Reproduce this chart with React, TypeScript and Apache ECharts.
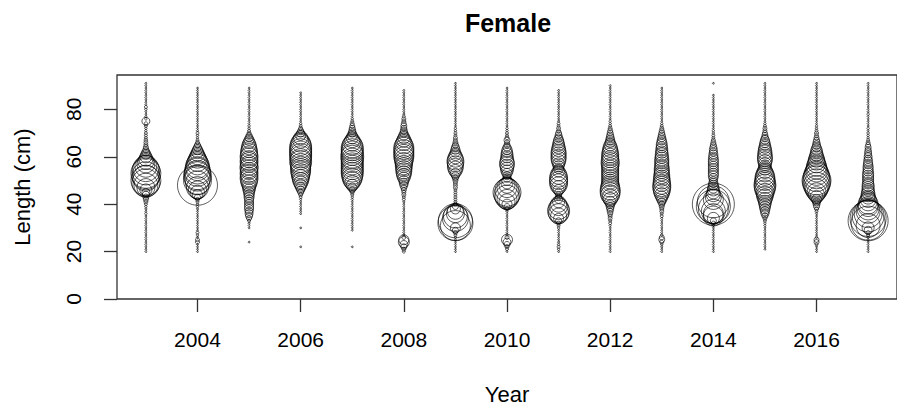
import { useEffect, useRef } from "react";
import * as echarts from "echarts";

// Survey years and 1-cm length bins (20..91 cm)
const years = [2003, 2004, 2005, 2006, 2007, 2008, 2009, 2010, 2011, 2012, 2013, 2014, 2015, 2016, 2017];
const firstLength = 20;
const xTicks = [2004, 2006, 2008, 2010, 2012, 2014, 2016];
const yTicks = [0, 20, 40, 60, 80];

// Proportion at length (%), one value per bin from 20 to 91 cm
const p2003 = [
  0.03, 0.03, 0.03, 0.03, 0.03, 0.03, 0.03, 0.03, 0.03, 0.03,
  0.03, 0.03, 0.03, 0.03, 0.03, 0.03, 0.06, 0.03, 0.04, 0.06,
  0.09, 0.16, 0.25, 0.36, 0.49, 0.64, 1.44, 3.24, 5.76, 7.84,
  9.0, 6.76, 7.84, 9.0, 7.84, 6.76, 4.84, 3.24, 2.56, 1.96,
  1.44, 1.0, 0.64, 0.36, 0.25, 0.16, 0.16, 0.13, 0.09, 0.09,
  0.09, 0.06, 0.06, 0.09, 0.12, 0.64, 0.06, 0.04, 0.03, 0.03,
  0.06, 0.09, 0.03, 0.03, 0.03, 0.03, 0.03, 0.03, 0.03, 0.03,
  0.03, 0.03,
];
const p2004 = [
  0.03, 0.03, 0.03, 0.03, 0.16, 0.16, 0.04, 0.06, 0.09, 0.03,
  0.03, 0.03, 0.03, 0.03, 0.03, 0.03, 0.03, 0.03, 0.04, 0.06,
  0.06, 0.09, 0.16, 0.36, 1.0, 1.96, 3.24, 4.84, 16.0, 5.76,
  7.84, 6.76, 7.84, 6.76, 6.76, 5.76, 5.76, 4.84, 4.0, 3.24,
  2.56, 1.96, 1.44, 1.0, 0.64, 0.36, 0.16, 0.09, 0.06, 0.06,
  0.09, 0.04, 0.03, 0.03, 0.03, 0.03, 0.03, 0.03, 0.03, 0.03,
  0.03, 0.03, 0.03, 0.03, 0.03, 0.03, 0.03, 0.03, 0.03, 0.03,
  0, 0,
];
const p2005 = [
  0, 0, 0, 0, 0.03, 0, 0, 0, 0, 0,
  0.03, 0.03, 0.04, 0.09, 0.25, 0.49, 0.64, 0.64, 0.81, 0.81,
  0.81, 0.81, 0.81, 1.0, 1.0, 1.21, 1.44, 1.69, 1.96, 2.56,
  2.89, 3.24, 2.89, 3.24, 2.89, 3.24, 3.24, 2.89, 3.24, 2.89,
  3.24, 2.89, 2.89, 2.56, 2.25, 1.96, 1.44, 1.0, 0.64, 0.36,
  0.16, 0.09, 0.06, 0.06, 0.03, 0.03, 0.03, 0.03, 0.03, 0.03,
  0.03, 0.03, 0.03, 0.03, 0.03, 0.03, 0.03, 0.03, 0.03, 0.03,
  0, 0,
];
const p2006 = [
  0, 0, 0.03, 0, 0, 0, 0, 0, 0, 0,
  0.03, 0, 0, 0, 0, 0, 0.03, 0.03, 0.03, 0.03,
  0.03, 0.03, 0.04, 0.09, 0.16, 0.36, 0.64, 1.0, 1.44, 1.96,
  2.56, 2.89, 3.24, 3.61, 4.0, 4.0, 4.0, 4.41, 4.84, 4.41,
  4.84, 4.84, 4.84, 4.84, 4.84, 4.41, 3.61, 2.56, 1.96, 1.0,
  0.64, 0.36, 0.16, 0.09, 0.06, 0.03, 0.03, 0.03, 0.03, 0.03,
  0.03, 0.03, 0.03, 0.03, 0.03, 0.03, 0.03, 0.03, 0, 0,
  0, 0,
];
const p2007 = [
  0, 0, 0.03, 0, 0, 0, 0, 0, 0, 0.03,
  0.03, 0.03, 0.03, 0.03, 0.03, 0.03, 0.03, 0.03, 0.03, 0.03,
  0.03, 0.03, 0.04, 0.06, 0.09, 0.16, 0.36, 0.81, 1.44, 2.25,
  3.24, 4.0, 4.41, 4.84, 4.84, 4.84, 4.84, 4.84, 4.84, 4.84,
  5.29, 4.84, 4.84, 4.84, 4.84, 4.0, 2.89, 2.25, 1.44, 1.0,
  0.64, 0.49, 0.36, 0.25, 0.16, 0.09, 0.06, 0.03, 0.03, 0.03,
  0.03, 0.03, 0.03, 0.03, 0.03, 0.03, 0.03, 0.03, 0.03, 0.03,
  0, 0,
];
const p2008 = [
  0.09, 0.16, 0.36, 0.64, 1.21, 1.0, 0.16, 0.04, 0.03, 0.03,
  0.03, 0.03, 0.03, 0.03, 0.03, 0.03, 0.03, 0.03, 0.03, 0.03,
  0.03, 0.04, 0.09, 0.09, 0.16, 0.16, 0.25, 0.36, 0.64, 0.81,
  1.0, 1.44, 1.96, 2.25, 2.56, 2.56, 2.89, 2.89, 3.24, 3.61,
  4.0, 4.0, 4.0, 4.0, 4.0, 3.24, 2.56, 1.96, 1.44, 1.0,
  0.64, 0.49, 0.36, 0.36, 0.25, 0.16, 0.16, 0.09, 0.04, 0.03,
  0.03, 0.03, 0.03, 0.03, 0.03, 0.03, 0.03, 0.03, 0.03, 0,
  0, 0,
];
const p2009 = [
  0.03, 0.03, 0.03, 0.03, 0.03, 0.03, 0.06, 0.09, 0.16, 0.36,
  1.0, 9.0, 12.25, 11.56, 6.76, 5.76, 3.24, 2.56, 1.0, 0.36,
  0.16, 0.09, 0.09, 0.09, 0.09, 0.09, 0.09, 0.16, 0.16, 0.16,
  0.25, 0.36, 0.64, 1.0, 1.69, 2.25, 2.56, 2.56, 2.89, 2.56,
  1.96, 1.44, 1.0, 0.81, 0.64, 0.36, 0.25, 0.16, 0.16, 0.09,
  0.09, 0.06, 0.06, 0.03, 0.03, 0.03, 0.03, 0.03, 0.03, 0.03,
  0.03, 0.03, 0.03, 0.03, 0.03, 0.03, 0.03, 0.03, 0.03, 0.03,
  0.03, 0.03,
];
const p2010 = [
  0.03, 0.09, 0.16, 0.36, 0.64, 1.21, 0.16, 0.06, 0.03, 0.03,
  0.03, 0.03, 0.03, 0.03, 0.03, 0.03, 0.03, 0.04, 0.16, 0.36,
  1.0, 2.56, 4.0, 5.76, 6.76, 7.84, 5.76, 4.0, 2.56, 1.44,
  1.0, 0.64, 0.64, 1.0, 1.44, 1.69, 1.96, 2.25, 1.96, 1.69,
  1.44, 1.44, 1.21, 1.0, 0.64, 0.36, 0.25, 0.36, 0.16, 0.09,
  0.09, 0.06, 0.06, 0.03, 0.03, 0.03, 0.03, 0.03, 0.03, 0.03,
  0.03, 0.03, 0.03, 0.03, 0.03, 0.03, 0.03, 0.03, 0.03, 0.03,
  0, 0,
];
const p2011 = [
  0.03, 0.06, 0.09, 0.06, 0.04, 0.03, 0.03, 0.03, 0.03, 0.03,
  0.06, 0.09, 0.16, 0.36, 1.0, 2.56, 4.0, 4.84, 4.41, 3.24,
  2.56, 1.44, 0.64, 0.36, 0.36, 0.64, 1.21, 1.96, 2.89, 3.24,
  3.24, 3.24, 2.89, 2.25, 1.44, 1.0, 1.21, 1.44, 1.96, 2.25,
  2.25, 2.25, 2.25, 1.96, 1.69, 1.44, 1.21, 1.0, 0.64, 0.49,
  0.36, 0.16, 0.16, 0.09, 0.09, 0.04, 0.03, 0.03, 0.03, 0.03,
  0.03, 0.03, 0.03, 0.03, 0.03, 0.03, 0.03, 0.03, 0.03, 0,
  0, 0,
];
const p2012 = [
  0.03, 0.03, 0.03, 0.03, 0.03, 0.03, 0.03, 0.03, 0.03, 0.03,
  0.03, 0.04, 0.09, 0.09, 0.16, 0.16, 0.25, 0.36, 0.49, 0.64,
  0.81, 1.21, 1.96, 2.56, 3.61, 4.0, 4.0, 3.61, 3.24, 2.89,
  2.89, 2.89, 2.89, 2.89, 2.89, 2.89, 2.89, 3.24, 3.24, 2.89,
  2.89, 2.89, 2.56, 2.25, 1.96, 1.44, 1.0, 0.81, 0.64, 0.49,
  0.36, 0.25, 0.16, 0.09, 0.06, 0.06, 0.03, 0.03, 0.03, 0.03,
  0.03, 0.03, 0.03, 0.03, 0.03, 0.03, 0.03, 0.03, 0.03, 0.03,
  0.03, 0,
];
const p2013 = [
  0.03, 0.03, 0.04, 0.06, 0.16, 0.36, 0.25, 0.06, 0.03, 0.03,
  0.03, 0.03, 0.03, 0.03, 0.04, 0.09, 0.09, 0.16, 0.16, 0.25,
  0.36, 0.64, 1.0, 1.44, 1.96, 2.56, 2.89, 3.24, 3.24, 2.89,
  2.89, 2.56, 2.56, 2.25, 2.25, 2.25, 1.96, 1.96, 1.96, 1.96,
  1.69, 1.69, 1.44, 1.44, 1.21, 1.21, 1.0, 0.81, 0.64, 0.49,
  0.36, 0.25, 0.16, 0.09, 0.06, 0.03, 0.03, 0.03, 0.03, 0.03,
  0.03, 0.03, 0.03, 0.03, 0.03, 0.03, 0.03, 0.03, 0.03, 0.03,
  0, 0,
];
const p2014 = [
  0.03, 0.03, 0.03, 0.03, 0.03, 0.03, 0.03, 0.03, 0.03, 0.03,
  0.03, 0.04, 0.16, 0.36, 1.44, 4.0, 4.0, 5.76, 9.0, 11.56,
  17.64, 10.24, 4.0, 2.56, 1.96, 1.69, 1.44, 1.21, 1.0, 0.81,
  0.64, 0.81, 1.0, 1.0, 1.0, 1.0, 1.0, 1.0, 1.0, 1.0,
  0.81, 0.81, 0.64, 0.64, 0.49, 0.36, 0.25, 0.16, 0.09, 0.09,
  0.06, 0.06, 0.03, 0.03, 0.03, 0.03, 0.03, 0.03, 0.03, 0.03,
  0.03, 0.03, 0.03, 0.03, 0.03, 0.03, 0.03, 0, 0, 0,
  0, 0.03,
];
const p2015 = [
  0, 0.03, 0.03, 0.03, 0.03, 0.03, 0.03, 0.03, 0.03, 0.03,
  0.03, 0.04, 0.06, 0.09, 0.16, 0.36, 0.64, 0.81, 1.0, 1.21,
  1.44, 1.69, 1.96, 2.56, 2.89, 3.24, 4.0, 4.41, 4.84, 4.41,
  4.0, 4.0, 3.61, 2.89, 2.25, 1.69, 1.44, 1.69, 1.96, 2.25,
  2.25, 1.96, 1.96, 1.69, 1.44, 1.21, 1.0, 0.81, 0.49, 0.36,
  0.25, 0.16, 0.16, 0.09, 0.06, 0.03, 0.03, 0.03, 0.03, 0.03,
  0.03, 0.03, 0.03, 0.03, 0.03, 0.03, 0.03, 0.03, 0.03, 0.03,
  0.03, 0.03,
];
const p2016 = [
  0.03, 0.03, 0.03, 0.09, 0.25, 0.25, 0.06, 0.03, 0.03, 0.03,
  0.03, 0.03, 0.03, 0.03, 0.03, 0.03, 0.04, 0.09, 0.16, 0.36,
  0.49, 0.64, 1.0, 1.69, 2.56, 3.61, 4.84, 5.76, 6.76, 7.84,
  8.41, 7.29, 6.76, 5.76, 4.84, 4.41, 4.0, 3.24, 2.89, 2.56,
  1.96, 1.69, 1.44, 1.21, 0.81, 0.64, 0.49, 0.36, 0.25, 0.16,
  0.16, 0.09, 0.06, 0.06, 0.03, 0.03, 0.03, 0.03, 0.03, 0.03,
  0.03, 0.03, 0.03, 0.03, 0.03, 0.03, 0.03, 0.03, 0.03, 0.03,
  0.03, 0.03,
];
const p2017 = [
  0.03, 0.03, 0.03, 0.03, 0.03, 0.03, 0.06, 0.09, 0.16, 0.64,
  1.44, 5.76, 11.56, 16.0, 12.96, 10.24, 7.84, 5.76, 4.84, 4.0,
  4.0, 3.24, 2.56, 1.96, 1.96, 1.69, 1.44, 1.44, 1.44, 1.21,
  1.21, 1.21, 1.21, 1.21, 1.0, 1.0, 1.0, 0.81, 0.81, 0.64,
  0.64, 0.49, 0.49, 0.36, 0.36, 0.25, 0.16, 0.09, 0.06, 0.06,
  0.06, 0.03, 0.06, 0.03, 0.03, 0.03, 0.03, 0.03, 0.06, 0.03,
  0.03, 0.03, 0.03, 0.03, 0.03, 0.03, 0.03, 0.03, 0.03, 0.03,
  0.03, 0.03,
];

const proportions = [
  p2003, p2004, p2005, p2006, p2007, p2008, p2009, p2010,
  p2011, p2012, p2013, p2014, p2015, p2016, p2017,
];

const FONT = '"Liberation Sans", Arial, Helvetica, sans-serif';

export default function App() {
  const ref = useRef<HTMLDivElement | null>(null);

  useEffect(() => {
    if (!ref.current) return;
    const chart = echarts.init(ref.current, undefined, { renderer: "svg" });

    const data: number[][] = [];
    years.forEach((yr, j) => {
      proportions[j].forEach((v, i) => {
        if (v > 0) data.push([yr, firstLength + i, v]);
      });
    });

    chart.setOption({
      animation: false,
      backgroundColor: "#ffffff",
      textStyle: { fontFamily: FONT },
      grid: {
        left: 117,
        top: 75,
        width: 783,
        height: 224,
        show: true,
        borderColor: "#333",
        borderWidth: 1.3,
        backgroundColor: "transparent",
        containLabel: false,
      },
      graphic: [
        {
          type: "text",
          x: 508,
          y: 23,
          style: {
            text: "Female",
            font: `bold 25px ${FONT}`,
            fill: "#000",
            textAlign: "center",
            textVerticalAlign: "middle",
          },
        },
      ],
      xAxis: {
        type: "value",
        min: 2002.44,
        max: 2017.56,
        name: "Year",
        nameLocation: "middle",
        nameGap: 84,
        nameTextStyle: { fontSize: 22, color: "#000", fontFamily: FONT },
        axisLine: { show: false },
        splitLine: { show: false },
        axisTick: {
          show: true,
          inside: false,
          length: 13,
          customValues: xTicks,
          lineStyle: { color: "#333", width: 1.3 },
        },
        axisLabel: {
          show: true,
          customValues: xTicks,
          formatter: (v: number) => String(v),
          margin: 30,
          fontSize: 21,
          color: "#000",
          fontFamily: FONT,
        },
      },
      yAxis: {
        type: "value",
        min: 0,
        max: 94.5,
        name: "Length (cm)",
        nameLocation: "middle",
        nameGap: 84,
        nameRotate: 90,
        nameTextStyle: { fontSize: 22, color: "#000", fontFamily: FONT },
        axisLine: { show: false },
        splitLine: { show: false },
        axisTick: {
          show: true,
          inside: false,
          length: 13,
          customValues: yTicks,
          lineStyle: { color: "#333", width: 1.3 },
        },
        axisLabel: {
          show: true,
          customValues: yTicks,
          formatter: (v: number) => String(v),
          rotate: 90,
          margin: 33,
          fontSize: 21,
          color: "#000",
          fontFamily: FONT,
        },
      },
      series: [
        {
          type: "scatter",
          symbol: "circle",
          data,
          symbolSize: (val: number[]) => 10 * Math.sqrt(val[2]),
          itemStyle: {
            color: "rgba(0,0,0,0)",
            borderColor: "#000",
            borderWidth: 0.8,
          },
          emphasis: { disabled: true },
          silent: true,
          clip: false,
        },
      ],
    });

    return () => chart.dispose();
  }, []);

  return (
    <div
      ref={ref}
      style={{ position: "absolute", left: 0, top: 0, width: 897, height: 411 }}
    />
  );
}
